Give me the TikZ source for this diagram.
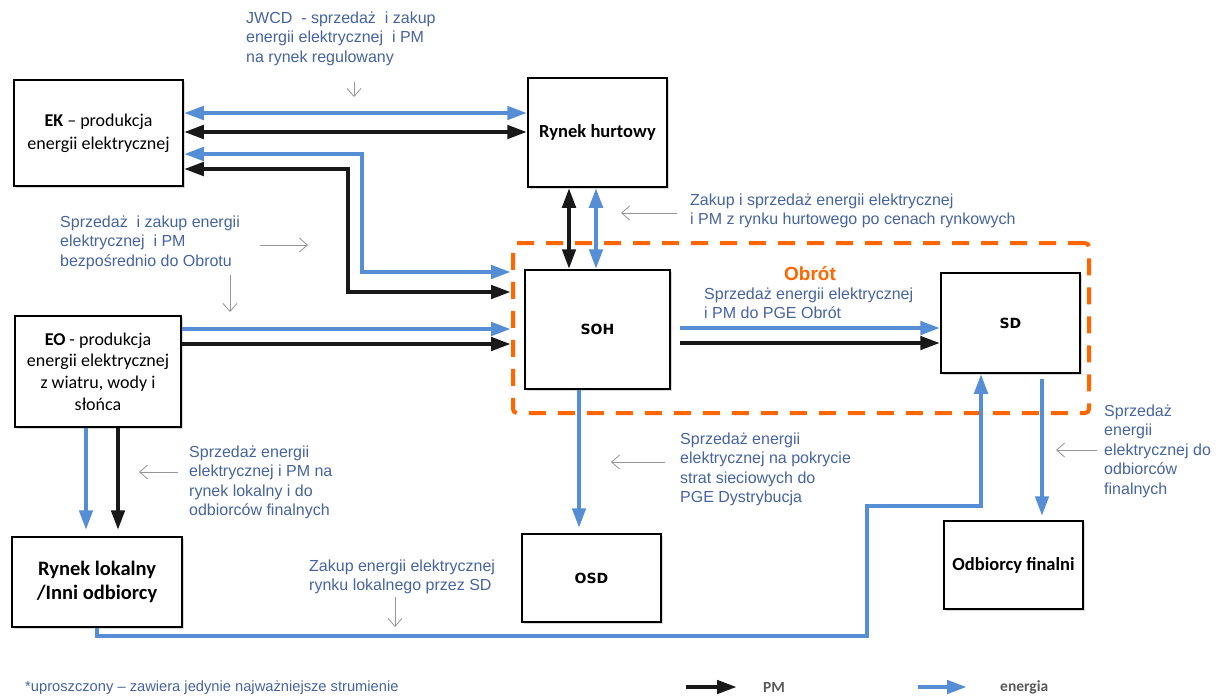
\documentclass[tikz,border=0pt]{standalone}
\usepackage{fontspec}
\setmainfont{Liberation Sans}
\newfontfamily\calfont{Carlito}
\newfontfamily\dvfont{DejaVu Sans}
\usetikzlibrary{arrows.meta,shadows}
\definecolor{lbl}{RGB}{70,100,160}
\definecolor{eblue}{RGB}{85,142,213}
\definecolor{pmblack}{RGB}{25,25,25}
\definecolor{obr}{RGB}{255,102,0}
\definecolor{ptr}{RGB}{150,150,150}
\definecolor{leg}{RGB}{90,90,90}
\begin{document}
\begin{tikzpicture}[x=1pt,y=-1pt,
  box/.style={draw=black, line width=1.5pt, fill=white, inner sep=0pt, align=center,
    drop shadow={shadow xshift=1.5pt,shadow yshift=-1.5pt,opacity=0.3}},
  calbox/.style={box, font=\calfont\fontsize{18}{23}\selectfont},
  calbold/.style={box, font=\calfont\bfseries\fontsize{18.5}{22}\selectfont},
  dvbox/.style={box, font=\dvfont\bfseries\fontsize{14}{17}\selectfont},
  lbltext/.style={anchor=north west, inner sep=0pt, align=left, text=lbl,
    font=\fontsize{16}{19.5}\selectfont},
  en/.style={draw=eblue, line width=4.5pt, >={Triangle[length=20pt,width=13pt]}},
  pm/.style={draw=pmblack, line width=4.5pt, >={Triangle[length=20pt,width=13pt]}},
  ptrarrow/.style={draw=ptr, line width=0.8pt, -{Straight Barb[length=8pt,width=14pt]}},
  legtext/.style={anchor=west, inner sep=0pt, text=leg, font=\calfont\bfseries\fontsize{15.5}{18}\selectfont},
]
\useasboundingbox (0,0) rectangle (1216,697);
\fill[white] (0,0) rectangle (1216,697);

% Obrot dashed frame
\node[draw=obr, line width=4pt, dash pattern=on 17pt off 12pt, rounded corners=4pt,
  minimum width=576pt, minimum height=170pt, inner sep=0pt] (obrot) at (801,328) {};
\node[text=obr, inner sep=0pt, font=\bfseries\fontsize{19}{22}\selectfont] (obrlbl) at (810,274) {Obrót};

% boxes
\node[calbox, minimum width=169pt, minimum height=106pt] (EK) at (98.5,133) {\textbf{EK} – produkcja\\energii elektrycznej};
\node[calbold, minimum width=139pt, minimum height=109pt] (RH) at (597.5,132.5) {Rynek hurtowy};
\node[dvbox, minimum width=145pt, minimum height=119pt] (SOH) at (597.5,329.5) {SOH};
\node[dvbox, minimum width=139pt, minimum height=100pt] (SD) at (1010.5,323) {SD};
\node[box, font=\calfont\fontsize{18}{21.7}\selectfont, minimum width=166pt, minimum height=111pt] (EO) at (98,371.5) {\textbf{EO} - produkcja\\energii elektrycznej\\z wiatru, wody i\\słońca};
\node[box, font=\calfont\bfseries\fontsize{20.5}{24}\selectfont, minimum width=170pt, minimum height=90pt] (RL) at (97,582) {Rynek lokalny\\/Inni odbiorcy};
\node[dvbox, minimum width=139pt, minimum height=88pt] (OSD) at (591.5,578) {OSD};
\node[calbold, minimum width=139pt, minimum height=88pt] (OF) at (1013.5,565) {Odbiorcy finalni};

% connectors
\draw[en,<->] (EK.east |- 0,113) -- (RH.west |- 0,113);
\draw[pm,<->] (EK.east |- 0,132) -- (RH.west |- 0,132);
\draw[en,<->] (EK.east |- 0,154) -| (362,272) -- (obrot.west |- 0,272);
\draw[pm,<->] (EK.east |- 0,169) -| (348,292) -- (obrot.west |- 0,292);
\draw[en,->] (EO.east |- 0,329) -- (obrot.west |- 0,329);
\draw[pm,->] (EO.east |- 0,344) -- (obrot.west |- 0,344);
\draw[pm,<->] (569,0 |- RH.south) -- (569,0 |- SOH.north);
\draw[en,<->] (596,0 |- RH.south) -- (596,0 |- SOH.north);
\draw[en,->,shorten <=9pt] (SOH.east |- 0,328) -- (SD.west |- 0,328);
\draw[pm,->,shorten <=9pt] (SOH.east |- 0,343) -- (SD.west |- 0,343);
\draw[en,->,shorten >=5pt] (579,0 |- SOH.south) -- (579,0 |- OSD.north);
\draw[en,->,shorten >=6pt] (86,0 |- EO.south) -- (86,0 |- RL.north);
\draw[pm,->,shorten >=6pt] (118,0 |- EO.south) -- (118,0 |- RL.north);
\draw[en,->,shorten <=5pt,shorten >=4pt] (1042,0 |- SD.south) -- (1042,0 |- OF.north);
\draw[en,->] (97,0 |- RL.south) |- (867,636) |- (981,506) -- (981,0 |- SD.south);

% labels
\node[lbltext] (L1) at (246,11.5) {JWCD \ - sprzedaż \ i zakup\\energii elektrycznej \ i PM\\na rynek regulowany};
\node[lbltext] (L2) at (690,193.5) {Zakup i sprzedaż energii elektrycznej\\i PM z rynku hurtowego po cenach rynkowych};
\node[lbltext] (L3) at (60,215.5) {Sprzedaż \ i zakup energii\\elektrycznej \ i PM\\bezpośrednio do Obrotu};
\node[lbltext] (L4) at (704,287.5) {Sprzedaż energii elektrycznej\\i PM do PGE Obrót};
\node[lbltext] (L5) at (680,432.5) {Sprzedaż energii\\elektrycznej na pokrycie\\strat sieciowych do\\PGE Dystrybucja};
\node[lbltext] (L6) at (1104,404.5) {Sprzedaż\\energii\\elektrycznej do\\odbiorców\\finalnych};
\node[lbltext] (L7) at (189,445.5) {Sprzedaż energii\\elektrycznej i PM na\\rynek lokalny i do\\odbiorców finalnych};
\node[lbltext] (L8) at (309,559.5) {Zakup energii elektrycznej\\rynku lokalnego przez SD};
\node[anchor=west, inner sep=0pt, text=lbl, font=\fontsize{14.7}{17}\selectfont] (fn) at (25,688) {*uproszczony – zawiera jedynie najważniejsze strumienie};

% pointer arrows
\coordinate (g1a) at (354,82);  \coordinate (g1b) at (354,97);
\coordinate (g2a) at (677,213); \coordinate (g2b) at (621,213);
\coordinate (g3a) at (260,245); \coordinate (g3b) at (308,245);
\coordinate (g4a) at (230,275); \coordinate (g4b) at (230,312);
\coordinate (g5a) at (665,462); \coordinate (g5b) at (611,462);
\coordinate (g6a) at (1097,450); \coordinate (g6b) at (1056,450);
\coordinate (g7a) at (178,472); \coordinate (g7b) at (139,472);
\coordinate (g8a) at (395,597); \coordinate (g8b) at (395,627);
\foreach \i in {1,...,8} {\draw[ptrarrow] (g\i a) -- (g\i b);}

% legend
\coordinate (lpa) at (686,687); \coordinate (lpb) at (737,687);
\draw[pm,->] (lpa) -- (lpb);
\node[legtext] (lpt) at (763,687) {PM};
\coordinate (lea) at (918,687); \coordinate (leb) at (967,687);
\draw[en,->] (lea) -- (leb);
\node[legtext] (let) at (1000,687) {energia};
\end{tikzpicture}
\end{document}
